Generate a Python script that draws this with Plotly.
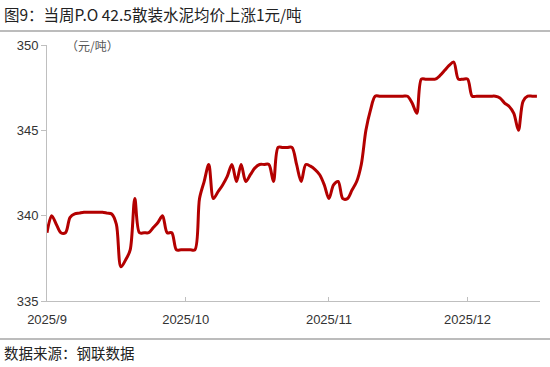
import pandas as pd
import plotly.graph_objects as go

start_date = "2025-09-01"
prices = [
    # Sep
    339, 340, 339.5, 339, 339, 339.9, 340.1, 340.15, 340.2, 340.2,
    340.2, 340.2, 340.2, 340.15, 340.1, 339.5, 337, 337.4, 338, 341,
    339, 339, 339, 339.3, 339.6, 340, 339, 339, 338, 338,
    # Oct
    338, 338, 338, 341, 342, 343, 341, 341.4, 341.8, 342.3,
    343, 342, 343, 342, 342.4, 342.8, 343, 343, 343, 342,
    344, 344, 344, 344, 343, 342, 343, 342.9, 342.7, 342.4, 341.8,
    # Nov
    341, 341.8, 342, 341, 341, 341.5, 342, 343, 345, 346.2,
    347, 347, 347, 347, 347, 347, 347, 347, 346.6, 346,
    348, 348, 348, 348, 348.2, 348.5, 348.8, 349, 348, 348,
    # Dec
    348, 347, 347, 347, 347, 347, 347, 346.9, 346.6, 346.4,
    346, 345, 346.7, 347, 347, 347,
]
dates = pd.date_range(start_date, periods=len(prices), freq="D")

tick_vals = ["2025-09-01", "2025-10-01", "2025-11-01", "2025-12-01"]
tick_text = ["2025/9", "2025/10", "2025/11", "2025/12"]
y_ticks = [335, 340, 345, 350]

title_text = "图9：当周P.O 42.5散装水泥均价上涨1元/吨"
source_text = "数据来源：钢联数据"
unit_text = "（元/吨）"

cjk = "Noto Sans CJK SC, sans-serif"
num_font = "Liberation Sans, Arial, sans-serif"

fig = go.Figure()
fig.add_trace(go.Scatter(
    x=dates, y=prices, mode="lines",
    line=dict(color="#B30000", width=3, shape="spline", smoothing=0.9),
    hoverinfo="skip", showlegend=False,
))

PW = 493.0
PH = 256.0

fig.update_layout(
    width=550, height=367,
    margin=dict(l=47, r=10, t=45, b=66),
    paper_bgcolor="white", plot_bgcolor="white",
    xaxis=dict(
        range=["2025-09-01", "2025-12-16 16:00"],
        tickvals=tick_vals, ticktext=tick_text,
        showgrid=False, zeroline=False,
        showline=True, linecolor="#BFBFBF", linewidth=1,
        ticks="inside", ticklen=4, tickcolor="#BFBFBF",
        ticklabelstandoff=6,
        tickfont=dict(family=num_font, size=13, color="#333333"),
    ),
    yaxis=dict(
        range=[335, 350], tickvals=y_ticks,
        showgrid=False, zeroline=False,
        showline=True, linecolor="#BFBFBF", linewidth=1,
        ticks="outside", ticklen=5, tickcolor="#BFBFBF",
        tickfont=dict(family=num_font, size=13, color="#333333"),
    ),
    shapes=[
        dict(type="line", xref="paper", yref="paper", x0=-47/PW, x1=1+10/PW,
             y0=(301-31)/PH, y1=(301-31)/PH,
             line=dict(color="#A6A6A6", width=1.5)),
        dict(type="line", xref="paper", yref="paper", x0=-47/PW, x1=1+10/PW,
             y0=-(339-301)/PH, y1=-(339-301)/PH,
             line=dict(color="#A6A6A6", width=1.5)),
    ],
    annotations=[
        dict(text=title_text, xref="paper", yref="paper",
             x=-45/PW, y=(301-14)/PH, xanchor="left", yanchor="middle",
             showarrow=False, font=dict(family=cjk, size=15.5, color="#222222")),
        dict(text=source_text, xref="paper", yref="paper",
             x=-45/PW, y=-(352-301)/PH, xanchor="left", yanchor="middle",
             showarrow=False, font=dict(family=cjk, size=14.5, color="#222222")),
        dict(text=unit_text, xref="paper", yref="paper",
             x=17/PW, y=1, xanchor="left", yanchor="middle",
             showarrow=False, font=dict(family=cjk, size=12, color="#555555")),
    ],
)

fig.write_html(
    "out.html",
    config={"displayModeBar": False, "staticPlot": True},
    post_script="document.body.style.margin='0';document.body.style.padding='0';",
)
